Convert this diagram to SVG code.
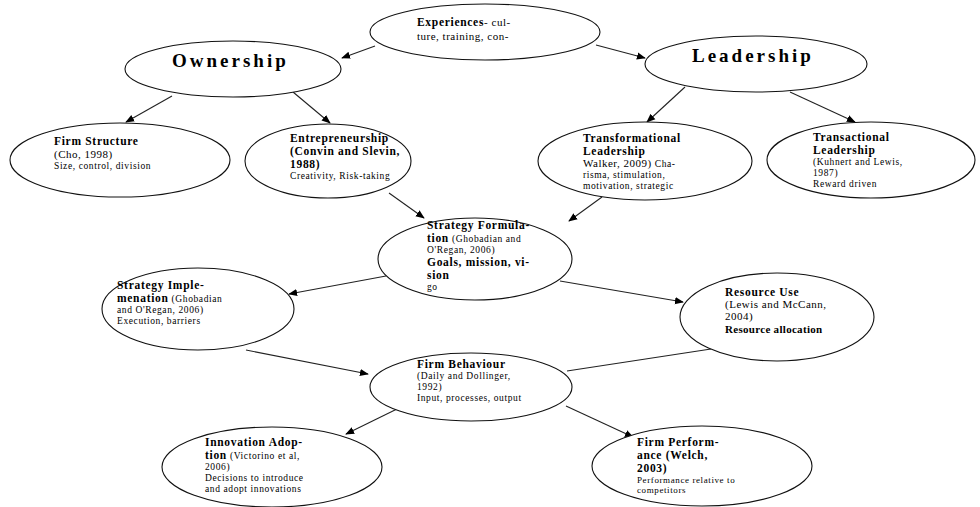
<svg xmlns="http://www.w3.org/2000/svg" width="980" height="507" viewBox="0 0 980 507">
<style>
.n{fill:#fff;stroke:#111;stroke-width:1.1}
.c{stroke:#222;stroke-width:1.1;fill:none}
text{font-family:"Liberation Serif","Times New Roman",serif;fill:#000}
.b{font-weight:bold;font-size:11.5px;letter-spacing:0.7px}
.s{font-size:9.5px;letter-spacing:0.6px}
.m{font-size:11px;letter-spacing:0.5px}
.big{font-weight:bold;font-size:19px;letter-spacing:3px}
</style>
<defs>
<marker id="ah" viewBox="0 0 10 10" refX="9" refY="5" markerWidth="9" markerHeight="9" markerUnits="userSpaceOnUse" orient="auto">
<path d="M0,1 L10,5 L0,9 Z" fill="#000"/>
</marker>
</defs>
<rect width="980" height="507" fill="#fff"/>
<g id="connectors">
<line class="c" x1="375" y1="46" x2="342" y2="58" marker-end="url(#ah)"/>
<line class="c" x1="596" y1="45" x2="645" y2="58" marker-end="url(#ah)"/>
<line class="c" x1="172" y1="96" x2="126" y2="122" marker-end="url(#ah)"/>
<line class="c" x1="293" y1="92" x2="330" y2="123" marker-end="url(#ah)"/>
<line class="c" x1="685" y1="87" x2="647" y2="122" marker-end="url(#ah)"/>
<line class="c" x1="790" y1="92" x2="855" y2="122" marker-end="url(#ah)"/>
<line class="c" x1="389" y1="193" x2="424" y2="218" marker-end="url(#ah)"/>
<line class="c" x1="602" y1="197" x2="569" y2="221" marker-end="url(#ah)"/>
<line class="c" x1="386" y1="276" x2="289" y2="294" marker-end="url(#ah)"/>
<line class="c" x1="560" y1="281" x2="683" y2="302" marker-end="url(#ah)"/>
<line class="c" x1="246" y1="350" x2="368" y2="374" marker-end="url(#ah)"/>
<line class="c" x1="711" y1="349" x2="567" y2="371"/>
<line class="c" x1="397" y1="409" x2="346" y2="434" marker-end="url(#ah)"/>
<line class="c" x1="566" y1="406" x2="633" y2="437" marker-end="url(#ah)"/>
</g>
<g id="experiences">
<ellipse class="n" cx="485" cy="32" rx="115" ry="28"/>
<text x="417" y="26"><tspan class="b">Experiences</tspan><tspan class="m">- cul-</tspan></text>
<text class="m" x="417" y="40">ture, training, con-</text>
</g>
<g id="ownership">
<ellipse class="n" cx="233" cy="69" rx="108" ry="28"/>
<text class="big" x="172" y="67">Ownership</text>
</g>
<g id="leadership">
<ellipse class="n" cx="756" cy="64" rx="111" ry="28"/>
<text class="big" x="692" y="62">Leadership</text>
</g>
<g id="firm-structure">
<ellipse class="n" cx="120" cy="160" rx="110" ry="37"/>
<text class="b" x="54" y="145">Firm Structure</text>
<text class="m" x="54" y="158">(Cho, 1998)</text>
<text class="s" x="54" y="169">Size, control, division</text>
</g>
<g id="entrepreneurship">
<ellipse class="n" cx="328" cy="161" rx="83" ry="37"/>
<text class="b" x="290" y="142">Entrepreneurship</text>
<text class="b" x="290" y="155">(Convin and Slevin,</text>
<text class="b" x="290" y="168">1988)</text>
<text class="s" x="290" y="179">Creativity, Risk-taking</text>
</g>
<g id="transformational-leadership">
<ellipse class="n" cx="645" cy="161" rx="107" ry="39"/>
<text class="b" x="583" y="142">Transformational</text>
<text class="b" x="583" y="155">Leadership</text>
<text x="583" y="167"><tspan class="m">Walker, 2009)</tspan><tspan class="s"> Cha-</tspan></text>
<text class="s" x="583" y="178">risma, stimulation,</text>
<text class="s" x="583" y="189">motivation, strategic</text>
</g>
<g id="transactional-leadership">
<ellipse class="n" cx="871" cy="160" rx="104" ry="38"/>
<text class="b" x="813" y="141">Transactional</text>
<text class="b" x="813" y="154">Leadership</text>
<text class="s" x="813" y="165">(Kuhnert and Lewis,</text>
<text class="s" x="813" y="176">1987)</text>
<text class="s" x="813" y="187">Reward driven</text>
</g>
<g id="strategy-formulation">
<ellipse class="n" cx="475" cy="259" rx="97" ry="41"/>
<text class="b" x="427" y="229">Strategy Formula-</text>
<text x="427" y="242"><tspan class="b">tion</tspan><tspan class="s"> (Ghobadian and</tspan></text>
<text class="s" x="427" y="253">O'Regan, 2006)</text>
<text class="b" x="427" y="266">Goals, mission, vi-</text>
<text class="b" x="427" y="279">sion</text>
<text class="s" x="427" y="290">go</text>
</g>
<g id="strategy-implementation">
<ellipse class="n" cx="198" cy="309" rx="96" ry="41"/>
<text class="b" x="117" y="289">Strategy Imple-</text>
<text x="117" y="302"><tspan class="b">menation</tspan><tspan class="s"> (Ghobadian</tspan></text>
<text class="s" x="117" y="313">and O'Regan, 2006)</text>
<text class="s" x="117" y="324">Execution, barriers</text>
</g>
<g id="resource-use">
<ellipse class="n" cx="777" cy="317" rx="97" ry="44"/>
<text class="b" x="725" y="296">Resource Use</text>
<text class="m" x="725" y="308">(Lewis and McCann,</text>
<text class="m" x="725" y="320">2004)</text>
<text class="m" x="725" y="333" font-weight="bold" style="letter-spacing:0.3px;font-size:11px">Resource allocation</text>
</g>
<g id="firm-behaviour">
<ellipse class="n" cx="471" cy="387" rx="101" ry="34"/>
<text class="b" x="417" y="368">Firm Behaviour</text>
<text class="s" x="417" y="379">(Daily and Dollinger,</text>
<text class="s" x="417" y="390">1992)</text>
<text class="s" x="417" y="401">Input, processes, output</text>
</g>
<g id="innovation-adoption">
<ellipse class="n" cx="272" cy="467" rx="110" ry="40"/>
<text class="b" x="205" y="446">Innovation Adop-</text>
<text x="205" y="459"><tspan class="b">tion</tspan><tspan class="s"> (Victorino et al,</tspan></text>
<text class="s" x="205" y="470">2006)</text>
<text class="s" x="205" y="481">Decisions to introduce</text>
<text class="s" x="205" y="492">and adopt innovations</text>
</g>
<g id="firm-performance">
<ellipse class="n" cx="702" cy="466" rx="110" ry="40"/>
<text class="b" x="637" y="446">Firm Perform-</text>
<text class="b" x="637" y="459">ance (Welch,</text>
<text class="b" x="637" y="472">2003)</text>
<text class="s" x="637" y="483" style="font-size:9px">Performance relative to</text>
<text class="s" x="637" y="493" style="font-size:9px">competitors</text>
</g>
</svg>
